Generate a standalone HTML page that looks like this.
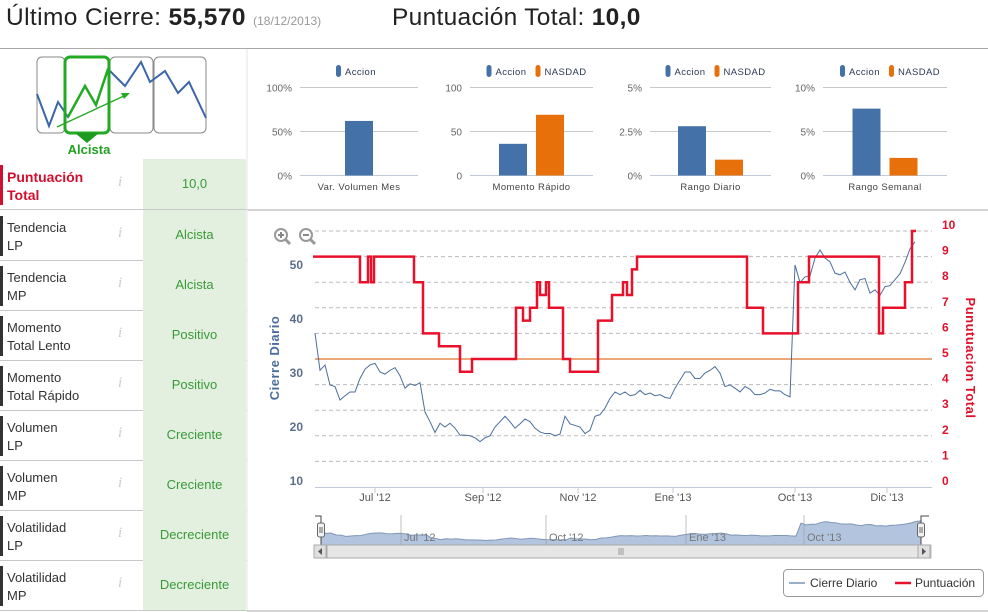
<!DOCTYPE html>
<html><head><meta charset="utf-8">
<style>
body{margin:0;width:988px;height:612px;overflow:hidden;background:#fff;font-family:"Liberation Sans",sans-serif;position:relative}
.abs{position:absolute}
.row{position:absolute;left:0;width:247px;height:50px;border-bottom:1px solid #c8c8c8}
.row .bar{position:absolute;left:0;top:6px;width:3px;height:40px;background:#333}
.row .lab{position:absolute;left:7px;top:9px;font-size:13px;line-height:18px;color:#333}
.row .info{position:absolute;left:118px;top:15px;font-size:15px;font-style:italic;color:#ccc;font-family:"Liberation Serif",serif}
.row .val{position:absolute;left:143px;top:0;width:103px;height:50px;background:#e3f0df;color:#3a9a3a;font-size:13px;line-height:50px;text-align:center}
</style></head><body>
<div class="abs" style="left:0;top:0;width:988px;height:48px;border-bottom:1px solid #aaa">
 <div class="abs" style="left:6px;top:4px;font-size:24.5px;letter-spacing:0.4px;color:#222;white-space:nowrap">Último Cierre: <b>55,570</b> <span style="font-size:12px;color:#999;letter-spacing:0">(18/12/2013)</span></div>
 <div class="abs" style="left:392px;top:4px;font-size:24.5px;letter-spacing:0.3px;color:#222;white-space:nowrap">Puntuación Total: <b>10,0</b></div>
</div>

<svg class="abs" style="left:0;top:49px" width="247" height="110">
 <rect x="37" y="8" width="28" height="76" rx="5" fill="none" stroke="#888"/>
 <rect x="110" y="8" width="43" height="76" rx="5" fill="none" stroke="#888"/>
 <rect x="154" y="8" width="52" height="76" rx="5" fill="none" stroke="#888"/>
 <polyline points="37,45 49,77 58,53 68,68 85,37 96,56 108,20 125,37 141,13 150,33 165,22 178,44 189,33 206,69" fill="none" stroke="#3a65a8" stroke-width="2"/>
 <rect x="65" y="8" width="44" height="76" rx="5" fill="#fff" fill-opacity="0" stroke="#22aa22" stroke-width="3"/>
 <polyline points="68,68 85,37 96,56 108,20" fill="none" stroke="#22aa22" stroke-width="2.5"/>
 <line x1="57" y1="78" x2="126" y2="46" stroke="#22aa22" stroke-width="1.3"/>
 <polygon points="130,44 121,44 124,50" fill="#22aa22"/>
 <polygon points="75,84 99,84 87,94" fill="#1e9a1e"/>
 <text x="89" y="105" text-anchor="middle" font-size="13" font-weight="bold" fill="#22a022" font-family="Liberation Sans">Alcista</text>
</svg>

<div class="row" style="top:159px"><div class="bar" style="background:#d0102e"></div><div class="lab" style="color:#d0102e;font-weight:bold;font-size:14px">Puntuación<br>Total</div><div class="info">i</div><div class="val">10,0</div></div>
<div class="row" style="top:210px"><div class="bar"></div><div class="lab">Tendencia<br>LP</div><div class="info">i</div><div class="val">Alcista</div></div>
<div class="row" style="top:260px"><div class="bar"></div><div class="lab">Tendencia<br>MP</div><div class="info">i</div><div class="val">Alcista</div></div>
<div class="row" style="top:310px"><div class="bar"></div><div class="lab">Momento<br>Total Lento</div><div class="info">i</div><div class="val">Positivo</div></div>
<div class="row" style="top:360px"><div class="bar"></div><div class="lab">Momento<br>Total Rápido</div><div class="info">i</div><div class="val">Positivo</div></div>
<div class="row" style="top:410px"><div class="bar"></div><div class="lab">Volumen<br>LP</div><div class="info">i</div><div class="val">Creciente</div></div>
<div class="row" style="top:460px"><div class="bar"></div><div class="lab">Volumen<br>MP</div><div class="info">i</div><div class="val">Creciente</div></div>
<div class="row" style="top:510px"><div class="bar"></div><div class="lab">Volatilidad<br>LP</div><div class="info">i</div><div class="val">Decreciente</div></div>
<div class="row" style="top:560px"><div class="bar"></div><div class="lab">Volatilidad<br>MP</div><div class="info">i</div><div class="val">Decreciente</div></div>

<svg id="main" class="abs" style="left:0;top:0" width="988" height="612"></svg>

<script>
// mini bar charts data
const miniTitles = ["Var. Volumen Mes","Momento Rápido","Rango Diario","Rango Semanal"];
const miniTicks = [["0%","50%","100%"],["0","50","100"],["0%","2.5%","5%"],["0%","5%","10%"]];
const miniMax = [100,100,5,10];
const accionVals = [62,36,2.8,7.6];
const nasdadVals = [null,69,0.9,2.0];

// main chart data (daily close, index-based)
const closeVals = [38.5,31.6,32.6,28.9,28.6,26.1,26.9,27.6,27.6,30.1,31.8,32.6,32.9,31.3,30.9,31.6,32.1,30.6,28.3,29.1,28.8,29.3,23.9,22.1,20.1,21.8,21.1,21.8,20.9,19.6,19.6,19.5,19.1,18.4,19.1,19.5,21.1,22.1,23.1,22.1,20.9,21.7,22.6,22.1,20.9,20.2,19.9,19.9,19.5,19.8,23.1,21.7,21.4,21.1,19.9,20.5,23.1,23.4,24.6,26.4,27.6,27.1,27.6,26.9,27.1,27.9,27.1,27.4,26.9,27.1,26.6,26.4,28.3,29.8,31.3,31.3,30.1,30.1,31.1,31.6,32.3,31.1,28.6,28.9,28.3,27.6,28.6,28.1,27.1,27.1,27.4,28.1,27.8,27.8,27.1,26.7,51.1,47.9,48.9,49.1,52.4,53.9,52.4,51.7,49.6,49.3,49.8,47.9,46.5,48.4,48.6,45.9,46.5,45.5,47.1,47.3,48.4,49.5,51.6,54.1,55.4];
const scoreIdx = [-0.4,9,10.6,11.2,11.8,19.8,21.6,24.8,29,31.4,40.2,41.6,43,44.4,45,46.2,46.8,49.6,51,56.6,59.4,61.6,62.4,63.4,64.4,86.4,89.6,96.6,98.8,112.8,113.6,118,119.4,120.2];
const scoreVals = [9,8,9,8,9,8,6,5.5,4.5,5,7,6.5,7,8,7.5,8,7,5,4.5,6.5,7.5,8,7.5,8.5,9,7,6,8,9,6,7,8,10,10];
const refLine = 5;
const xTickLabels = ["Jul '12","Sep '12","Nov '12","Ene '13","Oct '13","Dic '13"];
const xTickIdx = [12,33.6,52.6,71.6,96,114.4];
const leftTicks = [10,20,30,40,50];
const rightTicks = [0,1,2,3,4,5,6,7,8,9,10];
const navLabels = ["Jul '12","Oct '12","Ene '13","Oct '13"];
const navIdx = [16,45,73,96.6];

const NS="http://www.w3.org/2000/svg";
const svg=document.getElementById('main');
function el(tag,attrs,parent){const e=document.createElementNS(NS,tag);for(const k in attrs)e.setAttribute(k,attrs[k]);(parent||svg).appendChild(e);return e;}
function txt(x,y,s,attrs){const t=el('text',Object.assign({x:x,y:y,'font-family':'Liberation Sans, sans-serif'},attrs));t.textContent=s;return t;}

el('line',{x1:247,y1:210,x2:988,y2:210,stroke:'#aaa'});
el('line',{x1:247,y1:49,x2:247,y2:612,stroke:'#e4e4e4'});

const miniLeft=[300,470,650,823], miniW=[118,123,121,124];
for(let c=0;c<4;c++){
  const g=el('g',{});
  
  
  const x0=miniLeft[c], w=miniW[c], yb=175.5, yt=87.5;
  const ys=v=>yb-(v/miniMax[c])*(yb-yt);
  miniTicks[c].forEach((t,i)=>{
    const y=yb-i*(yb-yt)/2;
    el('line',{x1:x0,y1:y,x2:x0+w,y2:y,stroke:i==0?'#c0cad8':'#c8c8c8'},g);
    const tl=txt(x0-8,y+4,t,{'text-anchor':'end','font-size':10,fill:'#666'});g.appendChild(tl);
  });
  const cx=x0+w/2;
  const hasN=nasdadVals[c]!==null;
  const bw=28;
  const ax=hasN?cx-bw-4.5:cx-bw/2;
  const b1=el('rect',{x:ax,y:ys(accionVals[c]),width:bw,height:yb-ys(accionVals[c]),fill:'#4471a8'},g);
  
  
  if(hasN){
    const b2=el('rect',{x:cx+4.5,y:ys(nasdadVals[c]),width:bw,height:yb-ys(nasdadVals[c]),fill:'#e8700a'},g);
    
    
  }
  g.appendChild(txt(cx,190,miniTitles[c],{'text-anchor':'middle','font-size':9.5,fill:'#444','letter-spacing':'0.4'}));
  const lg=el('g',{},g);
  
  
  const lx=hasN?cx-45:cx-23;
  el('rect',{x:lx,y:65,width:5,height:12,rx:2.5,fill:'#4471a8'},lg);
  lg.appendChild(txt(lx+9,75,'Accion',{'font-size':9.5,fill:'#2a3a55','letter-spacing':'0.4'}));
  if(hasN){el('rect',{x:lx+49,y:65,width:5,height:12,rx:2.5,fill:'#e8700a'},lg);
    lg.appendChild(txt(lx+58,75,'NASDAD',{'font-size':9.5,fill:'#2a3a55','letter-spacing':'0.4'}));}
}

const X0=315, DX=5;
const xs=i=>X0+i*DX;
const yL=v=>487-(v-10)*5.4;
const yR=v=>487-v*25.6;
const mg=el('g',{});


rightTicks.forEach(v=>{
  if(v>0){el('line',{x1:315,y1:yR(v),x2:932,y2:yR(v),stroke:'#bbb','stroke-dasharray':'4,3'},mg);}
  mg.appendChild(txt(942,yR(v)-2,String(v),{'font-size':12,'font-weight':'bold',fill:'#e0102a'}));
});
leftTicks.forEach(v=>{mg.appendChild(txt(303,yL(v)-2,String(v),{'text-anchor':'end','font-size':12,'font-weight':'bold',fill:'#5a6e8c'}));});
el('line',{x1:315,y1:487.5,x2:932,y2:487.5,stroke:'#c0cad8'},mg);
xTickLabels.forEach((s,i)=>{
  const x=xs(xTickIdx[i]);
  el('line',{x1:x,y1:487.5,x2:x,y2:493,stroke:'#c0cad8'},mg);
  mg.appendChild(txt(x,501,s,{'text-anchor':'middle','font-size':11,fill:'#555'}));
});
const yt1=txt(0,0,'Cierre Diario',{'font-size':13,'font-weight':'bold',fill:'#4a6d9c','text-anchor':'middle',transform:'translate(279,358) rotate(-90)','letter-spacing':'0.5'});mg.appendChild(yt1);

const yt2=txt(0,0,'Punutuacion Total',{'font-size':13,'font-weight':'bold',fill:'#e0102a','text-anchor':'middle',transform:'translate(966,358) rotate(90)','letter-spacing':'0.5'});mg.appendChild(yt2);

const rl=el('line',{x1:315,y1:yR(refLine),x2:932,y2:yR(refLine),stroke:'#eaa878','stroke-width':2},mg);


const cp=el('polyline',{points:closeVals.map((v,i)=>xs(i)+','+yL(v)).join(' '),fill:'none',stroke:'#4a6f9c','stroke-width':1},mg);


let pts=[];
for(let i=0;i<scoreIdx.length;i++){
  if(i>0)pts.push(xs(scoreIdx[i])+','+yR(scoreVals[i-1]));
  pts.push(xs(scoreIdx[i])+','+yR(scoreVals[i]));
}
const sp=el('polyline',{points:pts.join(' '),fill:'none',stroke:'#e8102a','stroke-width':2.5,'stroke-linejoin':'miter'},mg);


[[281,'+'],[306,'−']].forEach((z,k)=>{
  const g=el('g',{},mg);
  
  
  el('circle',{cx:z[0],cy:235,r:6,fill:'#fff',stroke:'#999','stroke-width':2},g);
  el('line',{x1:z[0]+4,y1:239,x2:z[0]+9,y2:244,stroke:'#999','stroke-width':3},g);
  el('line',{x1:z[0]-3,y1:235,x2:z[0]+3,y2:235,stroke:'#888','stroke-width':2},g);
  if(k==0)el('line',{x1:z[0],y1:232,x2:z[0],y2:238,stroke:'#888','stroke-width':2},g);
});

const nav=el('g',{});


const NX0=321, NX1=921, NT=517, NB=545;
const nx=i=>NX0+i*(NX1-NX0)/(closeVals.length-1);
const ny=v=>NB-(v-10)/(60-10)*(NB-NT)*0.95;
el('line',{x1:NX0,y1:NB,x2:NX1,y2:NB,stroke:'#ccc'},nav);
let ap='M'+NX0+','+NB+' '+closeVals.map((v,i)=>'L'+nx(i)+','+ny(v)).join(' ')+' L'+NX1+','+NB+'Z';
el('path',{d:ap,fill:'#b3c5de',stroke:'#8096b8','stroke-width':1},nav);
navLabels.forEach((s,i)=>{
  const x=nx(navIdx[i]);
  el('line',{x1:x,y1:515,x2:x,y2:545,stroke:'#999','stroke-width':0.6},nav);
  nav.appendChild(txt(x+3,541,s,{'font-size':11,fill:'#777'}));
});
el('path',{d:'M315,516 H321 V545 M921,545 V516 H929',fill:'none',stroke:'#444'},nav);
[321,921].forEach(x=>{el('rect',{x:x-3.5,y:523,width:7,height:14,rx:2,fill:'#f2f2f2',stroke:'#666'},nav);
 el('line',{x1:x-1,y1:527,x2:x-1,y2:533,stroke:'#666'},nav);el('line',{x1:x+1,y1:527,x2:x+1,y2:533,stroke:'#666'},nav);});
const sb=el('g',{},nav);
el('rect',{x:314,y:545,width:617,height:13,fill:'#eee',stroke:'#bbb'},sb);
el('rect',{x:327,y:545,width:591,height:13,fill:'#e6e6e6',stroke:'#aaa'},sb);
el('rect',{x:314,y:545,width:12,height:13,fill:'#e0e0e0',stroke:'#aaa'},sb);
el('rect',{x:918,y:545,width:12,height:13,fill:'#e0e0e0',stroke:'#aaa'},sb);
el('path',{d:'M322,548 L318,551.5 L322,555Z',fill:'#555'},sb);
el('path',{d:'M922,548 L926,551.5 L922,555Z',fill:'#555'},sb);
[619,621,623].forEach(x=>el('line',{x1:x,y1:548,x2:x,y2:555,stroke:'#999'},sb));

const lg=el('g',{});


el('rect',{x:783.5,y:569.5,width:200,height:27,rx:4,fill:'#fff',stroke:'#999'},lg);
el('line',{x1:789,y1:583,x2:805,y2:583,stroke:'#9ab0c8','stroke-width':2},lg);
lg.appendChild(txt(810,587,'Cierre Diario',{'font-size':12,fill:'#333'}));
el('line',{x1:895,y1:583,x2:911,y2:583,stroke:'#e8102a','stroke-width':2.5},lg);
lg.appendChild(txt(915,587,'Puntuación',{'font-size':12,fill:'#333'}));
el('line',{x1:247,y1:611,x2:988,y2:611,stroke:'#aaa'});
</script>
</body></html>
